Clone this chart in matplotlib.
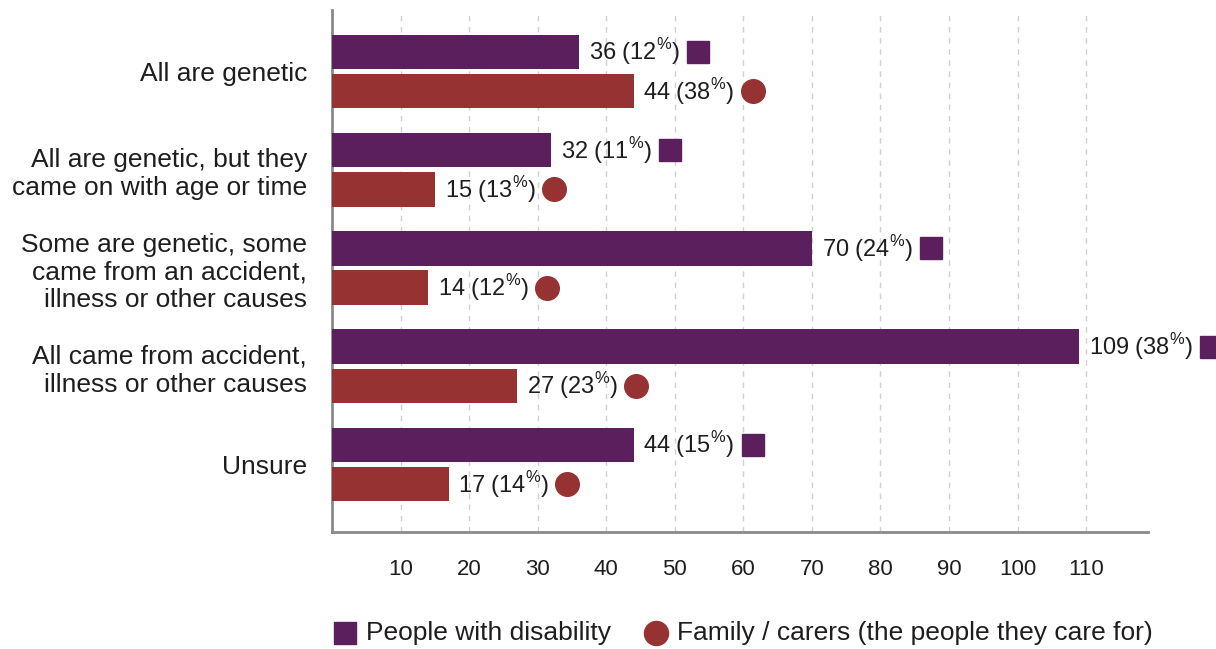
import matplotlib.pyplot as plt
import numpy as np

plt.rcParams['font.family'] = ['Liberation Sans', 'DejaVu Sans']
plt.rcParams['mathtext.fontset'] = 'custom'
plt.rcParams['mathtext.rm'] = 'Liberation Sans'

categories = ["All are genetic",
              "All are genetic, but they\ncame on with age or time",
              "Some are genetic, some\ncame from an accident,\nillness or other causes",
              "All came from accident,\nillness or other causes",
              "Unsure"]
people = [36, 32, 70, 109, 44]
people_pct = [12, 11, 24, 38, 15]
family = [44, 15, 14, 27, 17]
family_pct = [38, 13, 12, 23, 14]
xticks = [10, 20, 30, 40, 50, 60, 70, 80, 90, 100, 110]

purple = "#5c1f5e"
red = "#973233"
txt = "#1e1e1e"

fig = plt.figure(figsize=(12.16, 6.49), dpi=100)
ax = fig.add_axes([0.273, 0.180, 0.671, 0.805])

y = np.arange(len(categories))
h = 0.35
ax.barh(y - 0.2, people, height=h, color=purple, zorder=3)
ax.barh(y + 0.2, family, height=h, color=red, zorder=3)

ax.set_xlim(0, 119)
ax.set_ylim(4.69, -0.63)

labels = []
for yy, v, p, col, mk in [(y - 0.2, people, people_pct, purple, 's'),
                          (y + 0.2, family, family_pct, red, 'o')]:
    for i in range(len(v)):
        t = ax.annotate(f"{v[i]} ({p[i]}" + r"$^{\%}$)", (v[i], yy[i]),
                        xytext=(7, 0), textcoords='offset points',
                        ha='left', va='center', fontsize=17, color=txt)
        labels.append((t, yy[i], col, mk))

# marker goes just after the end of each value label
fig.canvas.draw()
renderer = fig.canvas.get_renderer()
for t, yv, col, mk in labels:
    bb = t.get_window_extent(renderer)
    x_disp = bb.x1 + 18
    x_data = ax.transData.inverted().transform((x_disp, 0))[0]
    ax.plot([x_data], [yv], marker=mk, markersize=16 if mk == 's' else 17,
            color=col, linestyle='none', clip_on=False)

ax.set_yticks(y)
ax.set_yticklabels(categories, fontsize=19, color=txt)
ax.set_xticks(xticks)
ax.set_xticklabels([str(t) for t in xticks], fontsize=16, color=txt)
ax.tick_params(axis='both', length=0)
ax.tick_params(axis='x', pad=19)
ax.tick_params(axis='y', pad=18)
ax.grid(axis='x', color='#d0d0d0', linestyle=(0, (4, 4)), linewidth=1, zorder=0)

for s in ['top', 'right']:
    ax.spines[s].set_visible(False)
for s in ['left', 'bottom']:
    ax.spines[s].set_color('#8a8a8a')
    ax.spines[s].set_linewidth(2)

h1 = ax.scatter([], [], marker='s', s=260, color=purple, label="People with disability")
h2 = ax.scatter([], [], marker='o', s=300, color=red, label="Family / carers (the people they care for)")
fig.legend(handles=[h1, h2], loc='center', bbox_to_anchor=(0.609, 0.024),
           ncol=2, frameon=False, fontsize=19, handlelength=1.2, handletextpad=0.2,
           columnspacing=1.1, labelcolor=txt)

fig.savefig("out.png", dpi=100)
